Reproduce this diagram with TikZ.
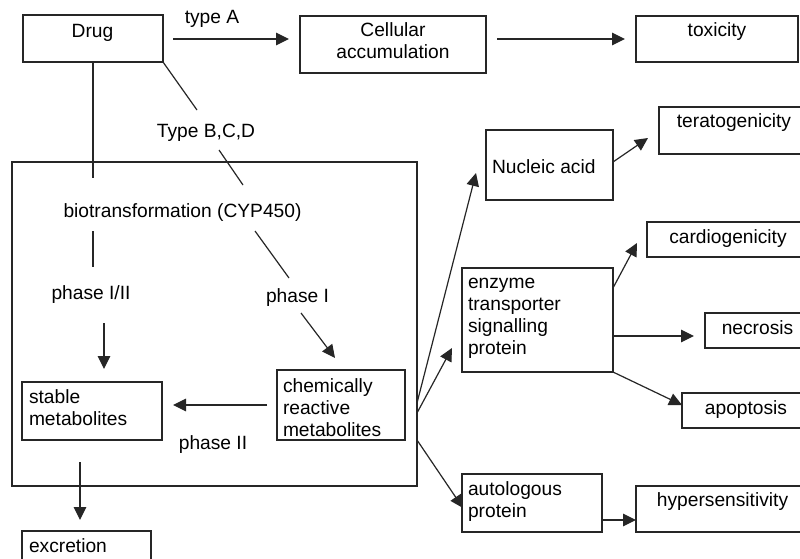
\documentclass[tikz,border=0pt]{standalone}
\usepackage{fontspec}
\setmainfont{Liberation Sans}
\usetikzlibrary{arrows.meta}
\begin{document}
\begin{tikzpicture}[x=1pt,y=-1pt,
  box/.style={draw=black!85, line width=1.2pt, rectangle, inner sep=0pt, outer sep=0pt, anchor=north west},
  txt/.style={font=\fontsize{19.2}{22}\selectfont, inner sep=0pt, outer sep=0pt, text=black},
  conn/.style={draw=black!85, line width=1.2pt},
  arr/.style={conn, -{Triangle[length=13pt,width=12.5pt]}}]
\clip (0,0) rectangle (800,559);
\fill[white] (0,0) rectangle (800,559);
% boxes
\node[box, minimum width=140, minimum height=47] (drug) at (23,15) {};
\node[box, minimum width=186, minimum height=57] (cell) at (300,16) {};
\node[box, minimum width=162, minimum height=46] (tox) at (636,16) {};
\node[box, minimum width=405, minimum height=324] (big) at (12,162) {};
\node[box, minimum width=140, minimum height=58] (stable) at (22,382) {};
\node[box, minimum width=128, minimum height=70] (chem) at (277,370) {};
\node[box, minimum width=129, minimum height=40] (excr) at (22,531) {};
\node[box, minimum width=127, minimum height=70] (nuc) at (486,130) {};
\node[box, minimum width=151, minimum height=47] (terat) at (659,107) {};
\node[box, minimum width=151, minimum height=104] (enz) at (462,268) {};
\node[box, minimum width=163, minimum height=35] (cardio) at (647,222) {};
\node[box, minimum width=105, minimum height=35] (necro) at (705,313) {};
\node[box, minimum width=128, minimum height=35] (apop) at (682,393) {};
\node[box, minimum width=140, minimum height=58] (auto) at (462,474) {};
\node[box, minimum width=174, minimum height=46] (hyper) at (636,486) {};
% texts
\node[txt, anchor=base] (drugT) at (92.5,38) {Drug};
\node[txt, anchor=base] (typeA) at (212,24) {type A};
\node[txt, anchor=north, align=center] (cellT) at (393,21.6) {\strut Cellular\\accumulation};
\node[txt, anchor=base] (toxT) at (717,37) {toxicity};
\node[txt, anchor=base] (typeB) at (206,137) {Type B,C,D};
\node[txt, anchor=base] (bioT) at (182.5,217) {biotransformation (CYP450)};
\node[txt, anchor=base] (ph12) at (91,299) {phase I/II};
\node[txt, anchor=base] (ph1) at (297.5,302) {phase I};
\node[txt, anchor=base] (ph2) at (213,449) {phase II};
\node[txt, anchor=north west, align=left] (stableT) at (29,387.6) {\strut stable\\metabolites};
\node[txt, anchor=north west, align=left] (chemT) at (283,376.6) {\strut chemically\\reactive\\metabolites};
\node[txt, anchor=base west] (excrT) at (29,552) {excretion};
\node[txt, anchor=base west] (nucT) at (492,173) {Nucleic acid};
\node[txt, anchor=base] (teratT) at (734,128) {teratogenicity};
\node[txt, anchor=north west, align=left] (enzT) at (468,272.6) {\strut enzyme\\transporter\\signalling\\protein};
\node[txt, anchor=base] (cardioT) at (728,243) {cardiogenicity};
\node[txt, anchor=base] (necroT) at (757.5,334) {necrosis};
\node[txt, anchor=base] (apopT) at (746,414) {apoptosis};
\node[txt, anchor=north west, align=left] (autoT) at (468,479.6) {\strut autologous\\protein};
\node[txt, anchor=base] (hyperT) at (722.5,506) {hypersensitivity};
% connector coordinates
\coordinate (a1s) at (173,39);   \coordinate (a1e) at (289,39);
\coordinate (a2s) at (497,39);   \coordinate (a2e) at (625,39);
\coordinate (l3e) at (93,178);
\coordinate (l4e) at (197,110);
\coordinate (l5s) at (219,150);  \coordinate (l5e) at (243,185);
\coordinate (l6s) at (93,231);   \coordinate (l6e) at (93,267);
\coordinate (a7s) at (104,323);  \coordinate (a7e) at (104,369);
\coordinate (l8s) at (255,231);  \coordinate (l8e) at (289,278);
\coordinate (a9s) at (301,313);  \coordinate (a9e) at (335,358);
\coordinate (a10s) at (267,405); \coordinate (a10e) at (173,405);
\coordinate (a11s) at (80,462);  \coordinate (a11e) at (80,520);
\coordinate (b1) at (417,403);   \coordinate (a12e) at (476,173);
\coordinate (b2) at (417,413);   \coordinate (a13e) at (452,348);
\coordinate (b3) at (417,440);   \coordinate (a14e) at (463,508);
\coordinate (a15s) at (613,162); \coordinate (a15e) at (648,138);
\coordinate (a16s) at (613,288); \coordinate (a16e) at (637,243);
\coordinate (a17s) at (613,336); \coordinate (a17e) at (694,336);
\coordinate (a18e) at (682,405);
\coordinate (a19s) at (602,520); \coordinate (a19e) at (636,520);
% connectors
\draw[arr] (a1s) -- (a1e);
\draw[arr] (a2s) -- (a2e);
\draw[conn] (drug.south) -- (l3e);
\draw[conn] (drug.south east) -- (l4e);
\draw[conn] (l5s) -- (l5e);
\draw[conn] (l6s) -- (l6e);
\draw[arr] (a7s) -- (a7e);
\draw[conn] (l8s) -- (l8e);
\draw[arr] (a9s) -- (a9e);
\draw[arr] (a10s) -- (a10e);
\draw[arr] (a11s) -- (a11e);
\draw[arr] (b1) -- (a12e);
\draw[arr] (b2) -- (a13e);
\draw[arr] (b3) -- (a14e);
\draw[arr] (a15s) -- (a15e);
\draw[arr] (a16s) -- (a16e);
\draw[arr] (a17s) -- (a17e);
\draw[arr] (enz.south east) -- (a18e);
\draw[arr] (a19s) -- (a19e);
\end{tikzpicture}
\end{document}
